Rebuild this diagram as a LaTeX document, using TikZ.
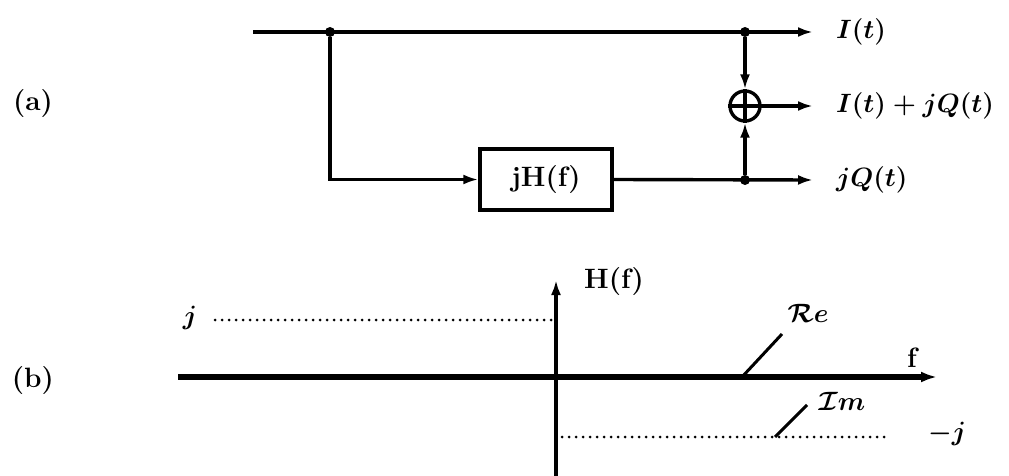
\RequirePackage{fix-cm}
\documentclass[tikz,border=0pt]{standalone}
\usetikzlibrary{arrows.meta}
\begin{document}
\begin{tikzpicture}[x=1pt,y=-1pt,
  wire/.style={line width=3.4pt},
  arr/.style={wire,-{Latex[length=15pt,width=10pt]}},
  junc/.style={circle,fill,inner sep=0pt,minimum size=10pt},
  lbl/.style={font=\fontsize{28}{34}\selectfont\bfseries\boldmath,inner sep=0pt},
  mlbl/.style={font=\fontsize{26.5}{32}\selectfont\bfseries\boldmath,inner sep=0pt},
  dots/.style={line width=3pt,line cap=round,dash pattern=on 0pt off 7pt},
  leader/.style={line width=3pt}]
\useasboundingbox (0,0) rectangle (1009,476);
% ---------- (a) ----------
\node[lbl] (la) at (33,104) {(a)};
\coordinate (in) at (253,32);
\node[junc] (j1) at (330,32) {};
\node[draw,wire,minimum width=132pt,minimum height=61pt,inner sep=0pt,lbl] (h) at (546,179.5) {jH(f)};
\node[junc] (j2) at (745,32) {};
\node[junc] (j3) at (745,180) {};
\node[circle,draw,wire,minimum size=30pt,inner sep=0pt] (sum) at (745,106) {};
\draw[wire] (sum.north) -- (sum.south) (sum.west) -- (sum.east);
\coordinate (o1) at (813,32);
\coordinate (o2) at (813,106);
\coordinate (o3) at (813,180);
\draw[arr] (in) -- (o1);
\draw[arr] (j1) |- (h.west);
\draw[arr] (h.east) -- (o3);
\draw[arr] (j2) -- (sum.north);
\draw[arr] (j3) -- (sum.south);
\draw[arr] (sum.east) -- (o2);
\node[mlbl,anchor=west] (t1) at (836,32) {$I(t)$};
\node[mlbl,anchor=west] (t2) at (836,106) {$I(t)+jQ(t)$};
\node[mlbl,anchor=west] (t3) at (836,180) {$jQ(t)$};
% ---------- (b) ----------
\node[lbl] (lb) at (33,381) {(b)};
\coordinate (xl) at (178,377);
\coordinate (xr) at (937,377);
\coordinate (yb) at (556,476);
\coordinate (yt) at (556,280);
\draw[line width=5.5pt,-{Latex[length=16pt,width=11pt]}] (xl) -- (xr);
\draw[wire,-{Latex[length=15pt,width=10pt]}] (yb) -- (yt);
\coordinate (d1a) at (215,320);
\coordinate (d1b) at (553,320);
\coordinate (d2a) at (562,437);
\coordinate (d2b) at (890,437);
\draw[dots] (d1a) -- (d1b);
\draw[dots] (d2a) -- (d2b);
\node[mlbl] (pj) at (190,318) {$j$};
\node[mlbl] (mj) at (947,434) {$-j$};
\node[lbl,anchor=west] (hf) at (584,282) {H(f)};
\node[lbl] (f) at (912,358) {f};
\node[mlbl] (re) at (808,313) {$\mathcal{R}e$};
\node[mlbl] (im) at (842,401) {$\mathcal{I}m$};
\coordinate (reA) at (742,377);
\coordinate (reB) at (782,334);
\coordinate (imA) at (775,437);
\coordinate (imB) at (807,405);
\draw[leader] (reA) -- (reB);
\draw[leader] (imA) -- (imB);
\end{tikzpicture}
\end{document}
